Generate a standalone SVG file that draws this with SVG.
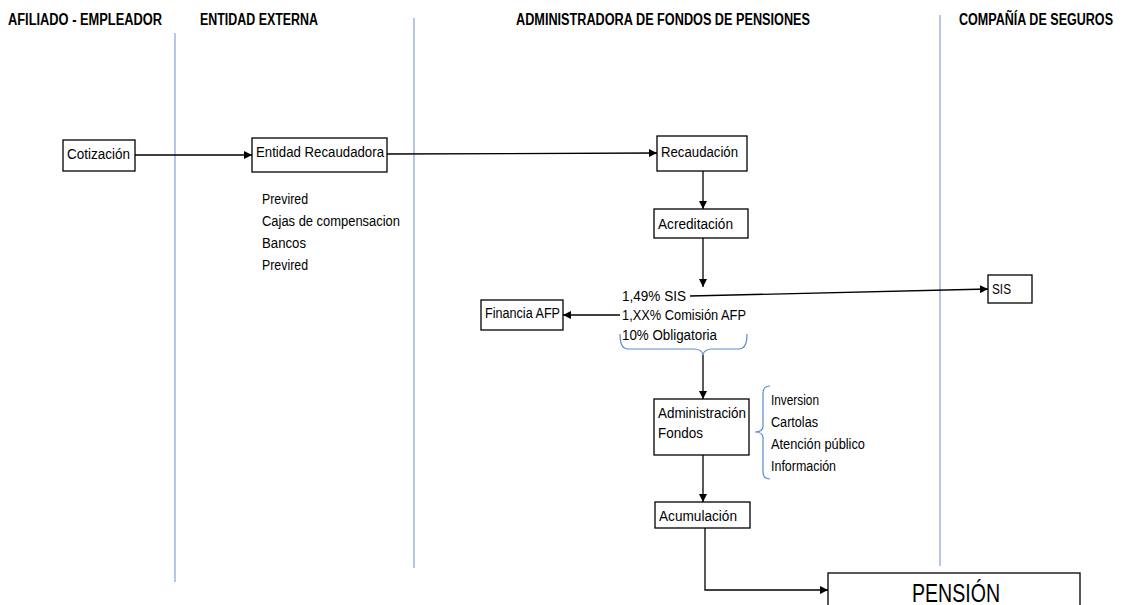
<svg xmlns="http://www.w3.org/2000/svg" width="1122" height="605" viewBox="0 0 1122 605">
<defs>
<style>
text{font-family:"Liberation Sans",Arial,sans-serif;fill:#000;}
.h{font-size:16px;font-weight:bold;}
.t{font-size:15.5px;}
.box{fill:#fff;stroke:#000;stroke-width:1.3;}
.lane{stroke:#8eaadb;stroke-width:1.3;fill:none;}
.c{stroke:#000;stroke-width:1.3;fill:none;}
.br{stroke:#5b8bd0;stroke-width:1.2;fill:none;}
</style>
<marker id="ah" viewBox="0 0 10 10" refX="10" refY="5" markerWidth="8" markerHeight="8" markerUnits="userSpaceOnUse" orient="auto">
<path d="M0,0 L10,5 L0,10 z" fill="#000"/>
</marker>
</defs>
<rect width="1122" height="605" fill="#fff"/>
<g id="lanes">
<line class="lane" x1="175" y1="33" x2="175" y2="582"/>
<line class="lane" x1="414" y1="18" x2="414" y2="568"/>
<line class="lane" x1="940" y1="15" x2="940" y2="566"/>
<text class="h" x="8" y="25" textLength="154" lengthAdjust="spacingAndGlyphs">AFILIADO - EMPLEADOR</text>
<text class="h" x="200" y="25" textLength="118" lengthAdjust="spacingAndGlyphs">ENTIDAD EXTERNA</text>
<text class="h" x="516" y="25" textLength="294" lengthAdjust="spacingAndGlyphs">ADMINISTRADORA DE FONDOS DE PENSIONES</text>
<text class="h" x="959" y="25" textLength="154" lengthAdjust="spacingAndGlyphs">COMPAÑÍA DE SEGUROS</text>
</g>
<g id="connectors">
<line class="c" x1="135" y1="155" x2="252" y2="155" marker-end="url(#ah)"/>
<line class="c" x1="387" y1="154" x2="657" y2="153" marker-end="url(#ah)"/>
<line class="c" x1="703" y1="171" x2="703" y2="209" marker-end="url(#ah)"/>
<line class="c" x1="703" y1="238" x2="703" y2="287" marker-end="url(#ah)"/>
<line class="c" x1="690" y1="296" x2="988" y2="289" marker-end="url(#ah)"/>
<line class="c" x1="620" y1="315" x2="563" y2="315" marker-end="url(#ah)"/>
<line class="c" x1="703" y1="355" x2="703" y2="399" marker-end="url(#ah)"/>
<line class="c" x1="703" y1="455" x2="703" y2="502" marker-end="url(#ah)"/>
<polyline class="c" points="705,528 705,590 828,590" marker-end="url(#ah)"/>
</g>
<g id="cotizacion">
<rect class="box" x="63" y="140" width="72" height="31"/>
<text class="t" x="67" y="159" textLength="63" lengthAdjust="spacingAndGlyphs">Cotización</text>
</g>
<g id="entidad-recaudadora">
<rect class="box" x="252" y="138" width="135" height="34"/>
<text class="t" x="256" y="157" textLength="128" lengthAdjust="spacingAndGlyphs">Entidad Recaudadora</text>
</g>
<g id="entidades-lista">
<text class="t" x="262" y="204" textLength="46" lengthAdjust="spacingAndGlyphs">Previred</text>
<text class="t" x="262" y="226" textLength="138" lengthAdjust="spacingAndGlyphs">Cajas de compensacion</text>
<text class="t" x="262" y="248" textLength="44" lengthAdjust="spacingAndGlyphs">Bancos</text>
<text class="t" x="262" y="270" textLength="46" lengthAdjust="spacingAndGlyphs">Previred</text>
</g>
<g id="recaudacion">
<rect class="box" x="657" y="136" width="90" height="35"/>
<text class="t" x="661" y="157" textLength="77" lengthAdjust="spacingAndGlyphs">Recaudación</text>
</g>
<g id="acreditacion">
<rect class="box" x="654" y="209" width="94" height="29"/>
<text class="t" x="658" y="229" textLength="75" lengthAdjust="spacingAndGlyphs">Acreditación</text>
</g>
<g id="distribucion">
<text class="t" x="622" y="301" textLength="64" lengthAdjust="spacingAndGlyphs">1,49% SIS</text>
<text class="t" x="622" y="320" textLength="124" lengthAdjust="spacingAndGlyphs">1,XX% Comisión AFP</text>
<text class="t" x="622" y="340" textLength="95" lengthAdjust="spacingAndGlyphs">10% Obligatoria</text>
<path class="br" d="M620,334 Q620,349 628,349 L694,349 Q702,349 703,355 Q704,349 712,349 L739,349 Q747,349 747,334"/>
</g>
<g id="sis">
<rect class="box" x="988" y="275" width="44" height="28"/>
<text class="t" x="992" y="294" textLength="19" lengthAdjust="spacingAndGlyphs">SIS</text>
</g>
<g id="financia-afp">
<rect class="box" x="481" y="300" width="82" height="30"/>
<text class="t" x="485" y="318" textLength="75" lengthAdjust="spacingAndGlyphs">Financia AFP</text>
</g>
<g id="administracion-fondos">
<rect class="box" x="654" y="399" width="95" height="56"/>
<text class="t" x="658" y="418" textLength="88" lengthAdjust="spacingAndGlyphs">Administración</text>
<text class="t" x="658" y="438" textLength="45" lengthAdjust="spacingAndGlyphs">Fondos</text>
</g>
<g id="funciones">
<path class="br" d="M770,386 Q763,386 763,393 L763,426 Q763,432 755,432 Q763,432 763,438 L763,472 Q763,479 770,479"/>
<text class="t" x="771" y="405" textLength="48" lengthAdjust="spacingAndGlyphs">Inversion</text>
<text class="t" x="771" y="427" textLength="47" lengthAdjust="spacingAndGlyphs">Cartolas</text>
<text class="t" x="771" y="449" textLength="94" lengthAdjust="spacingAndGlyphs">Atención público</text>
<text class="t" x="771" y="471" textLength="65" lengthAdjust="spacingAndGlyphs">Información</text>
</g>
<g id="acumulacion">
<rect class="box" x="655" y="502" width="95" height="26"/>
<text class="t" x="659" y="521" textLength="78" lengthAdjust="spacingAndGlyphs">Acumulación</text>
</g>
<g id="pension">
<rect class="box" x="828" y="573" width="252" height="40"/>
<text x="912" y="602" textLength="88" lengthAdjust="spacingAndGlyphs" style="font-size:25px">PENSIÓN</text>
</g>
</svg>
